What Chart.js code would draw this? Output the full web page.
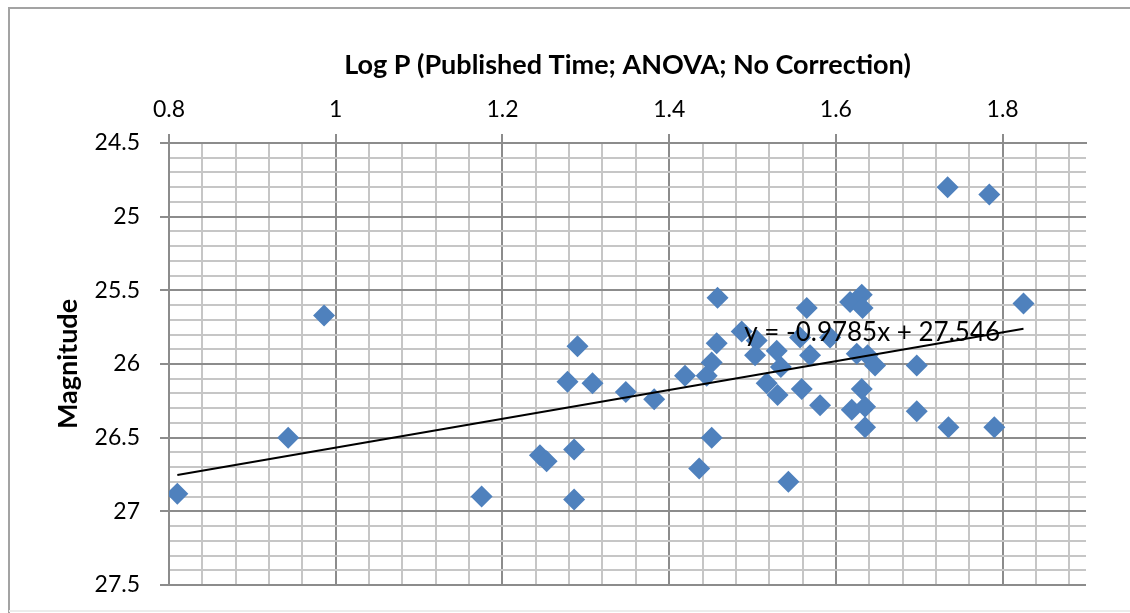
<!DOCTYPE html>
<html lang="en">
<head>
    <meta charset="UTF-8">
    <title>Magnitude vs Log P</title>
    <script src="https://cdn.jsdelivr.net/npm/chart.js"></script>
    <style>
        * { margin: 0; padding: 0; box-sizing: border-box; }
        body { background: #fff; width: 1130px; height: 613px; overflow: hidden; }
        #wrap { width: 1130px; height: 613px; }
    </style>
</head>
<body>
    <div id="wrap">
        <canvas id="magChart" width="1130" height="613"></canvas>
    </div>

    <script>
        // Log P (published time) for each star
        const logP = [
            0.810, 0.943, 0.986, 1.175, 1.245, 1.253, 1.286, 1.286, 1.290, 1.278,
            1.308, 1.348, 1.382, 1.419, 1.436, 1.445, 1.451, 1.451, 1.458, 1.457,
            1.487, 1.505, 1.503, 1.529, 1.557, 1.534, 1.517, 1.530, 1.543, 1.565,
            1.569, 1.559, 1.581, 1.593, 1.617, 1.631, 1.632, 1.625, 1.638, 1.647,
            1.631, 1.619, 1.635, 1.635, 1.697, 1.697, 1.735, 1.790, 1.734, 1.784,
            1.825
        ];

        // matching magnitudes
        const magnitude = [
            26.88, 26.50, 25.67, 26.90, 26.62, 26.66, 26.58, 26.92, 25.88, 26.12,
            26.13, 26.19, 26.24, 26.08, 26.71, 26.08, 25.99, 26.50, 25.55, 25.86,
            25.78, 25.84, 25.94, 25.91, 25.82, 26.02, 26.13, 26.21, 26.80, 25.62,
            25.94, 26.17, 26.28, 25.82, 25.58, 25.53, 25.62, 25.93, 25.94, 26.01,
            26.17, 26.31, 26.29, 26.43, 26.01, 26.32, 26.43, 26.43, 24.80, 24.85,
            25.59
        ];

        // linear trendline
        const slope = -0.9785;
        const intercept = 27.546;

        // labelled axis positions
        const xMajorTicks = [0.8, 1.0, 1.2, 1.4, 1.6, 1.8];
        const yMajorTicks = [24.5, 25, 25.5, 26, 26.5, 27, 27.5];

        const points = logP.map((x, i) => ({ x: x, y: magnitude[i] }));
        const xMin = Math.min(...logP);
        const xMax = Math.max(...logP);
        const trend = [
            { x: xMin, y: slope * xMin + intercept },
            { x: xMax, y: slope * xMax + intercept }
        ];

        const isMajor = (list, v) => list.some(t => Math.abs(t - v) < 1e-6);

        const MAJOR = '#8c8c8c';
        const MINOR = '#c6c6c6';
        const FONT = 'Lato, "Open Sans", sans-serif';

        // white background + the gray frame around the chart
        const frame = {
            id: 'frame',
            beforeDraw(chart) {
                const ctx = chart.ctx;
                ctx.save();
                ctx.fillStyle = '#fff';
                ctx.fillRect(0, 0, chart.width, chart.height);
                ctx.strokeStyle = '#a3a3a3';
                ctx.lineWidth = 2;
                ctx.beginPath();
                ctx.moveTo(9, chart.height);
                ctx.lineTo(9, 8);
                ctx.lineTo(chart.width, 8);
                ctx.stroke();
                ctx.strokeStyle = '#ececec';
                ctx.beginPath();
                ctx.moveTo(9, 611);
                ctx.lineTo(chart.width, 611);
                ctx.stroke();
                ctx.restore();
            }
        };

        // equation text next to the trendline
        const trendLabel = {
            id: 'trendLabel',
            afterDatasetsDraw(chart) {
                const { ctx, scales } = chart;
                const px = scales.x.getPixelForValue(1.49);
                const py = scales.y.getPixelForValue(25.79);
                ctx.save();
                ctx.font = '26px ' + FONT;
                ctx.fillStyle = '#000';
                ctx.textAlign = 'left';
                ctx.textBaseline = 'middle';
                ctx.fillText('y = ' + slope + 'x + ' + intercept, px, py);
                ctx.restore();
            }
        };

        new Chart(document.getElementById('magChart'), {
            type: 'scatter',
            data: {
                datasets: [
                    {
                        label: 'Trend',
                        data: trend,
                        showLine: true,
                        borderColor: '#000',
                        borderWidth: 2,
                        pointRadius: 0,
                        order: 0
                    },
                    {
                        label: 'Magnitude',
                        data: points,
                        pointStyle: 'rectRot',
                        pointRadius: 11,
                        pointHoverRadius: 11,
                        backgroundColor: '#4F81BD',
                        borderWidth: 0,
                        order: 1
                    }
                ]
            },
            options: {
                responsive: false,
                animation: false,
                layout: { padding: { top: 0, left: 0, right: 44, bottom: 28 } },
                plugins: {
                    legend: { display: false },
                    tooltip: { enabled: false }
                },
                scales: {
                    x: {
                        type: 'linear',
                        position: 'top',
                        min: 0.8,
                        max: 1.9,
                        afterFit: s => { s.height = 143; },
                        ticks: {
                            stepSize: 0.04,
                            autoSkip: false,
                            includeBounds: false,
                            maxRotation: 0,
                            padding: 11,
                            color: '#000',
                            font: { family: FONT, size: 23 },
                            callback: v => isMajor(xMajorTicks, v) ? String(Math.round(v * 10) / 10) : ''
                        },
                        grid: {
                            lineWidth: 2,
                            tickLength: 9,
                            color: c => (c.tick && isMajor(xMajorTicks, c.tick.value)) ? MAJOR : MINOR,
                            tickColor: c => (c.tick && isMajor(xMajorTicks, c.tick.value)) ? MAJOR : 'rgba(0,0,0,0)'
                        },
                        border: { color: MAJOR, width: 2 },
                        title: {
                            display: true,
                            text: 'Log P (Published Time; ANOVA; No Correction)',
                            color: '#000',
                            font: { family: FONT, size: 27, weight: 'bold' },
                            padding: { top: 49, bottom: 0 }
                        }
                    },
                    y: {
                        type: 'linear',
                        reverse: true,
                        min: 24.5,
                        max: 27.5,
                        // fixed width; label padding shouldn't shrink the plot vertically
                        afterFit: s => {
                            s.width = 169;
                            s.paddingTop = 0;
                            s.paddingBottom = 0;
                        },
                        ticks: {
                            stepSize: 0.1,
                            autoSkip: false,
                            padding: 20,
                            color: '#000',
                            font: { family: FONT, size: 23 },
                            callback: v => isMajor(yMajorTicks, v) ? String(Math.round(v * 10) / 10) : ''
                        },
                        grid: {
                            lineWidth: 2,
                            tickLength: 9,
                            color: c => (c.tick && isMajor(yMajorTicks, c.tick.value)) ? MAJOR : MINOR,
                            tickColor: c => (c.tick && isMajor(yMajorTicks, c.tick.value)) ? MAJOR : 'rgba(0,0,0,0)'
                        },
                        border: { color: MAJOR, width: 2 },
                        title: {
                            display: true,
                            text: 'Magnitude',
                            color: '#000',
                            font: { family: FONT, size: 27, weight: 'bold' },
                            padding: { top: 52, bottom: 0 }
                        }
                    }
                }
            },
            plugins: [frame, trendLabel]
        });
    </script>
</body>
</html>
